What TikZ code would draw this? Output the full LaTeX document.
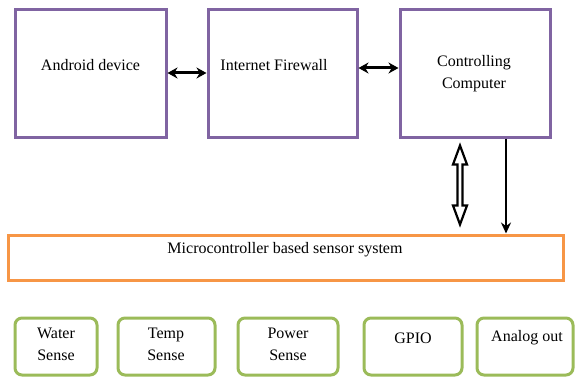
\documentclass[tikz,border=0pt]{standalone}
\usepackage{fontspec}
\setmainfont{Liberation Serif}
\usetikzlibrary{arrows.meta,calc}
\definecolor{boxpurple}{HTML}{8064A2}
\definecolor{boxorange}{HTML}{F79646}
\definecolor{boxgreen}{HTML}{9BBB59}
\tikzset{
  topbox/.style={draw=boxpurple, line width=3pt, inner sep=0pt, fill=white},
  microbox/.style={draw=boxorange, line width=3pt, inner sep=0pt},
  sensebox/.style={draw=boxgreen, line width=3pt, inner sep=0pt, rounded corners=7pt},
  lbl/.style={inner sep=0pt, align=center, font=\fontsize{16}{21.5}\selectfont},
  biarrow/.style={line width=3pt, {Stealth[length=10pt,width=11pt]}-{Stealth[length=10pt,width=11pt]}},
  onearrow/.style={line width=2.6pt, -{Stealth[length=11pt,width=10pt]}},
}
\begin{document}
\begin{tikzpicture}[x=1pt,y=-1pt]
\useasboundingbox (0,0) rectangle (575,377);
% top boxes
\node[topbox, minimum width=151pt, minimum height=127pt] (and) at (90.5,73.5) {};
\node[topbox, minimum width=149pt, minimum height=127pt] (fw) at (282.5,73.5) {};
\node[topbox, minimum width=150pt, minimum height=127pt] (cc) at (475,73.5) {};
\node[lbl] (andt) at (90.5,65) {Android device};
\node[lbl] (fwt) at (274,65) {Internet Firewall};
\node[lbl] (cct) at (474,73.5) {Controlling\\Computer};
% micro box
\node[microbox, minimum width=555pt, minimum height=45pt] (mc) at (285.5,257.5) {};
\node[lbl] (mct) at (285,250) {Microcontroller based sensor system};
% sense boxes
\node[sensebox, minimum width=82pt, minimum height=57pt] (ws) at (56,346.5) {};
\node[sensebox, minimum width=97pt, minimum height=57pt] (ts) at (166.5,346.5) {};
\node[sensebox, minimum width=100pt, minimum height=57pt] (ps) at (288,346.5) {};
\node[sensebox, minimum width=98pt, minimum height=57pt] (gp) at (413,346.5) {};
\node[sensebox, minimum width=96pt, minimum height=57pt] (ao) at (525,346.5) {};
\node[lbl, anchor=north] (wst) at (56,328) {Water\\Sense};
\node[lbl, anchor=north] (tst) at (166,328) {Temp\\Sense};
\node[lbl, anchor=north] (pst) at (288,328) {Power\\Sense};
\node[lbl] (gpt) at (413,338) {GPIO};
\node[lbl] (aot) at (527,338) {Analog out};
% horizontal arrows
\draw[biarrow] (and.east |- 0,73) -- (fw.west |- 0,73);
\draw[biarrow] (fw.east |- 0,68) -- (cc.west |- 0,68);
% single down arrow
\draw[onearrow] (cc.south -| 506,0) -- (mc.north -| 506,0);
% hollow double arrow
\coordinate (ht) at ($(cc.south -| 460,0)+(0,7)$);
\coordinate (hb) at ($(mc.north -| 460,0)+(0,-9)$);
\draw[line width=2.2pt, fill=white, line join=miter]
  (ht) -- ($(ht)+(7,19)$) -- ($(ht)+(2.5,19)$) -- ($(hb)+(2.5,-19)$) -- ($(hb)+(7,-19)$)
  -- (hb) -- ($(hb)+(-7,-19)$) -- ($(hb)+(-2.5,-19)$) -- ($(ht)+(-2.5,19)$) -- ($(ht)+(-7,19)$) -- cycle;
\end{tikzpicture}
\end{document}
